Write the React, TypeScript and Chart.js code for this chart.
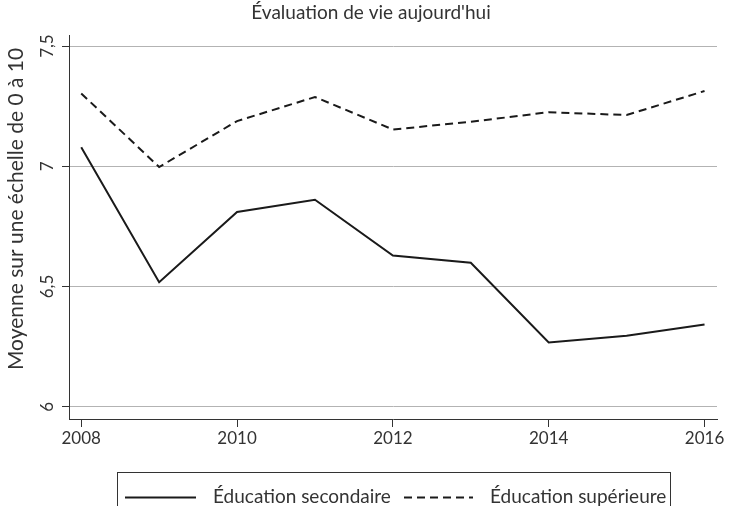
import React, { useEffect, useRef } from "react";
import { Chart, registerables } from "chart.js";

Chart.register(...registerables);

const years = [2008, 2009, 2010, 2011, 2012, 2013, 2014, 2015, 2016];
const secondaire = [7.079, 6.518, 6.81, 6.861, 6.629, 6.599, 6.267, 6.295, 6.342];
const superieure = [7.303, 6.997, 7.188, 7.288, 7.153, 7.185, 7.225, 7.213, 7.313];
const xTicks = [2008, 2010, 2012, 2014, 2016];
const yTicks = [6, 6.5, 7, 7.5];
const chartTitle = "Évaluation de vie aujourd'hui";
const yTitle = "Moyenne sur une échelle de 0 à 10";
const seriesLabels = ["Éducation secondaire", "Éducation supérieure"];

const FONT = "Lato, 'Open Sans', sans-serif";
const TEXT = "#333333";
const LINE = "#1a1a1a";

const fmtY = (v: number) => String(v).replace(".", ",");

const textPlugin = {
  id: "customText",
  afterDraw(chart: any) {
    const ctx = chart.ctx;
    ctx.save();
    ctx.fillStyle = TEXT;
    // title
    ctx.font = `19px ${FONT}`;
    ctx.textAlign = "center";
    ctx.textBaseline = "middle";
    ctx.fillText(chartTitle, 371, 13);
    // y title
    ctx.save();
    ctx.translate(16, 209);
    ctx.rotate(-Math.PI / 2);
    ctx.font = `21px ${FONT}`;
    ctx.fillText(yTitle, 0, 0);
    ctx.restore();
    // y tick labels
    const ys = chart.scales.y;
    ctx.font = `17px ${FONT}`;
    yTicks.forEach((v) => {
      const py = ys.getPixelForValue(v);
      ctx.save();
      ctx.translate(48, py);
      ctx.rotate(-Math.PI / 2);
      ctx.textAlign = "center";
      ctx.textBaseline = "middle";
      ctx.fillText(fmtY(v), 0, 0);
      ctx.restore();
    });
    // legend
    ctx.strokeStyle = TEXT;
    ctx.lineWidth = 1;
    ctx.strokeRect(117.5, 472.5, 553, 60);
    const ly = 497.5;
    const ds = chart.data.datasets;
    const items = [
      { x1: 125, x2: 196, tx: 213 },
      { x1: 404, x2: 473, tx: 490 },
    ];
    items.forEach((it, i) => {
      ctx.save();
      ctx.strokeStyle = LINE;
      ctx.lineWidth = 2;
      ctx.setLineDash(ds[i].borderDash || []);
      ctx.beginPath();
      ctx.moveTo(it.x1, ly);
      ctx.lineTo(it.x2, ly);
      ctx.stroke();
      ctx.restore();
      ctx.font = `19px ${FONT}`;
      ctx.textAlign = "left";
      ctx.textBaseline = "middle";
      ctx.fillStyle = TEXT;
      ctx.fillText(ds[i].label, it.tx, ly - 1);
    });
    ctx.restore();
  },
};

export default function App() {
  const ref = useRef<HTMLCanvasElement>(null);
  useEffect(() => {
    document.body.style.margin = "0";
    const chart = new Chart(ref.current as HTMLCanvasElement, {
      type: "line",
      data: {
        datasets: [
          {
            label: seriesLabels[0],
            data: years.map((y, i) => ({ x: y, y: secondaire[i] })),
            borderColor: LINE,
            borderWidth: 2,
            pointRadius: 0,
            fill: false,
            tension: 0,
          },
          {
            label: seriesLabels[1],
            data: years.map((y, i) => ({ x: y, y: superieure[i] })),
            borderColor: LINE,
            borderWidth: 2,
            borderDash: [8, 5],
            pointRadius: 0,
            fill: false,
            tension: 0,
          },
        ],
      },
      options: {
        responsive: false,
        animation: false,
        layout: { padding: { top: 35, right: 15, bottom: 57, left: 0 } },
        plugins: {
          legend: { display: false },
          title: { display: false },
          tooltip: { enabled: false },
        },
        scales: {
          x: {
            type: "linear",
            min: 2007.843,
            max: 2016.16,
            afterBuildTicks: (s: any) => {
              s.ticks = xTicks.map((v) => ({ value: v }));
            },
            afterFit: (s: any) => {
              s.height = 30;
            },
            grid: {
              drawOnChartArea: false,
              drawTicks: true,
              tickLength: 8,
              tickColor: TEXT,
            },
            border: { display: true, color: TEXT, width: 1 },
            ticks: {
              color: TEXT,
              font: { family: FONT, size: 17 },
              padding: 1,
              maxRotation: 0,
              autoSkip: false,
              callback: (v: any) => String(v),
            },
          },
          y: {
            type: "linear",
            min: 5.949,
            max: 7.546,
            afterBuildTicks: (s: any) => {
              s.ticks = yTicks.map((v) => ({ value: v }));
            },
            afterFit: (s: any) => {
              s.width = 69;
            },
            grid: {
              color: "#b3b3b3",
              lineWidth: 1,
              drawTicks: true,
              tickLength: 7,
              tickColor: TEXT,
            },
            border: { display: true, color: TEXT, width: 1 },
            ticks: { display: false },
          },
        },
      },
      plugins: [textPlugin],
    });
    return () => chart.destroy();
  }, []);
  return (
    <div style={{ position: "fixed", left: 0, top: 0, width: 732, height: 506, background: "#fff" }}>
      <canvas ref={ref} width={732} height={506} />
    </div>
  );
}
